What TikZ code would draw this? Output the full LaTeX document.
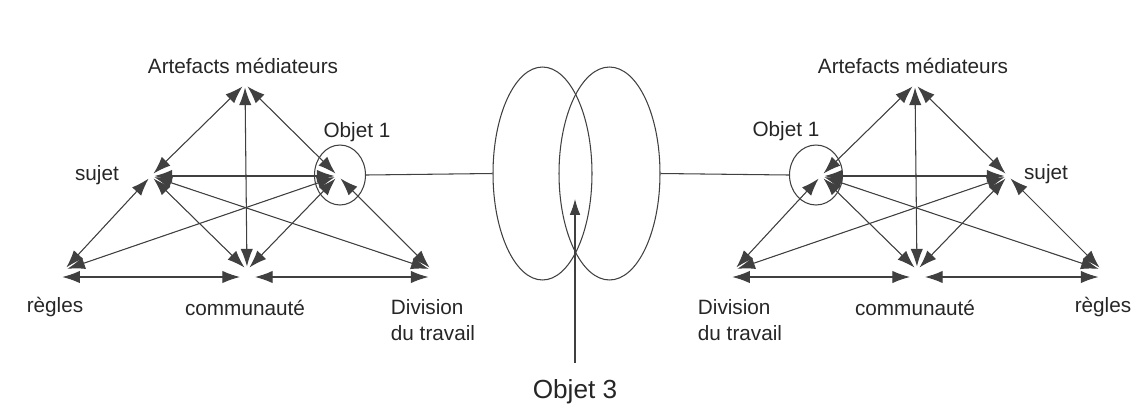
\documentclass[tikz,border=0pt]{standalone}
\usepackage{fontspec}
\setmainfont{Liberation Sans}
\usetikzlibrary{arrows.meta}
\usetikzlibrary{shapes.geometric}

\tikzset{
  reltip/.tip={Latex[length=10pt,width=7pt]},
  rel/.style={reltip-reltip, draw=black!75, fill=black, line width=0.6pt,
    shorten <=2pt, shorten >=2pt},
  link/.style={draw=black!75, line width=0.6pt},
  ring/.style={ellipse, draw=black!75, line width=0.6pt, inner sep=0pt},
  lbl/.style={font=\fontsize{11.8}{14.5}\selectfont, text=black!85, inner sep=0pt},
}

\begin{document}
\begin{tikzpicture}[x=0.02cm, y=-0.02cm]
  \useasboundingbox (0,0) rectangle (1133,407);

  % Corners of both triangles (right one is the left one moved by 670)
  \foreach \s/\dx in {L/0, R/670} {
    \coordinate (top\s) at (245+\dx,84);
    \coordinate (ml\s) at (151+\dx,176);
    \coordinate (mr\s) at (338+\dx,176);
    \coordinate (bl\s) at (64+\dx,270);
    \coordinate (bc\s) at (247+\dx,270);
    \coordinate (br\s) at (432+\dx,270);
  }

  % Labels, left system
  \node[lbl] (artL) at (243,66) {Artefacts médiateurs};
  \node[lbl] (sujL) at (97,175) {sujet};
  \node[lbl] (objL) at (357,132) {Objet 1};
  \node[lbl] (regL) at (55,307) {règles};
  \node[lbl] (comL) at (245,308) {communauté};
  \node[lbl, align=left] (divL) at (433,320) {Division\\du travail};

  % Labels, right system
  \node[lbl] (artR) at (913,66) {Artefacts médiateurs};
  \node[lbl] (objR) at (786,131) {Objet 1};
  \node[lbl] (sujR) at (1046,174) {sujet};
  \node[lbl, align=left] (divR) at (740,320) {Division\\du travail};
  \node[lbl] (comR) at (915,308) {communauté};
  \node[lbl] (regR) at (1103,307) {règles};

  % Relations inside each triangle
  \foreach \s in {L,R} {
    \foreach \a/\b in {top/ml, top/mr, top/bc, ml/mr, ml/bl, ml/bc, ml/br,
                       mr/bl, mr/bc, mr/br}
      \draw[rel] (\a\s) -- (\b\s);
    \draw[rel, shorten <=-1pt, shorten >=0.14cm] ([yshift=-0.14cm]bl\s) -- ([yshift=-0.14cm]bc\s);
    \draw[rel, shorten <=0.16cm] ([yshift=-0.14cm]bc\s) -- ([yshift=-0.14cm]br\s);
  }

  % Objet 1 circles and the shared object in the middle
  \node[ring, minimum width=1.02cm, minimum height=1.2cm] (ring1L) at (340,175) {};
  \node[ring, minimum width=1.06cm, minimum height=1.2cm] (ring1R) at (816,175) {};
  \node[ring, minimum width=1.98cm, minimum height=4.26cm] (ringA) at (542.5,173.5) {};
  \node[ring, minimum width=2.02cm, minimum height=4.26cm] (ringB) at (609.5,173.5) {};
  \draw[link] (ring1L.east) -- (ringA.west);
  \draw[link] (ringB.east) -- (ring1R.west);

  % Objet 3
  \node[lbl, font=\fontsize{14.9}{17}\selectfont] (obj3) at (575,392) {Objet 3};
  \coordinate (obj3tip) at (575,199);
  \draw[link, fill=black, -{Latex[length=9pt,width=6pt]}, shorten <=0.33cm] (obj3.north) -- (obj3tip);
\end{tikzpicture}
\end{document}
